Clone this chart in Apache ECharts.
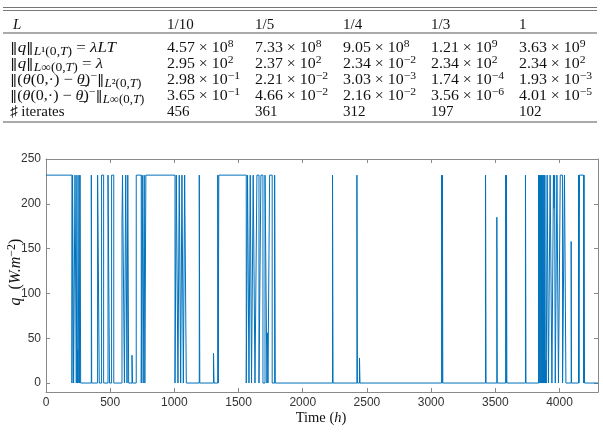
<!DOCTYPE html>
<html><head><meta charset="utf-8">
<script src="https://cdn.jsdelivr.net/npm/echarts@6/dist/echarts.min.js"></script>
<style>html,body{margin:0;padding:0;background:#fff}#c{width:603px;height:437px}</style>
</head><body><div id="c"></div>
<script>
// ---- Table data ----
const tableHeader = ["1/10", "1/5", "1/4", "1/3", "1"];
const rowL1 = [["4.57","8"],["7.33","8"],["9.05","8"],["1.21","9"],["3.63","9"]];
const rowLinf = [["2.95","2"],["2.37","2"],["2.34","−2"],["2.34","2"],["2.34","2"]];
const rowTh2 = [["2.98","−1"],["2.21","−2"],["3.03","−3"],["1.74","−4"],["1.93","−3"]];
const rowThInf = [["3.65","−1"],["4.66","−2"],["2.16","−2"],["3.56","−6"],["4.01","−5"]];
const rowIter = ["456", "361", "312", "197", "102"];

// ---- Chart data: switching times (h) and flux level from that time on (W.m^-2) ----
const timeH = [
  0, 202, 207, 215, 226, 236, 241, 245, 248, 251, 257, 262, 265, 270,
  353, 356, 402, 415, 433, 449, 483, 495, 511, 528,
  592, 596, 611, 621, 631, 637, 644, 670, 674,
  703, 742, 750, 757, 765, 770, 778,
  1005, 1015, 1028, 1038, 1049, 1059, 1070, 1080, 1093,
  1194, 1198, 1305, 1309, 1338, 1342, 1346,
  1560, 1570, 1581, 1591, 1601, 1614, 1628, 1643, 1659, 1674, 1690, 1706, 1721, 1726, 1729,
  1742, 1762, 1781, 1786,
  2232, 2236, 2422, 2426, 2442, 2446, 3082, 3086, 3088, 3091, 3424, 3428, 3512, 3515,
  3581, 3585, 3587, 3590, 3735, 3739,
  3837, 3841, 3844, 3848, 3851, 3855, 3858, 3862, 3865, 3869, 3872, 3876, 3879, 3883, 3886, 3890,
  3894, 3897, 3904, 3914, 3927, 3941, 3953, 3958, 3962, 3967, 3980, 3992, 4006, 4024, 4039, 4050,
  4091, 4094, 4148, 4152, 4156, 4188, 4191, 4195, 4300
];
const fluxQ = [
  232, 0, 232, 0, 232, 0, 232, 0, 37, 0, 232, 0, 232, 0,
  232, 0, 232, 0, 232, 0, 232, 0, 232, 0,
  180, 232, 0, 232, 0, 232, 0, 31, 0,
  232, 0, 232, 0, 232, 0, 232,
  0, 232, 0, 232, 0, 232, 0, 232, 0,
  232, 0, 33, 0, 232, 0, 232,
  0, 232, 0, 232, 0, 232, 0, 232, 0, 232, 0, 232, 0, 56, 0,
  232, 0, 232, 0,
  232, 0, 232, 0, 28, 0, 232, 0, 232, 0, 232, 0, 185, 0,
  232, 0, 232, 0, 232, 0,
  232, 0, 232, 0, 232, 0, 232, 0, 232, 0, 232, 0, 232, 0, 232, 0,
  26, 0, 232, 0, 232, 0, 232, 195, 232, 0, 232, 0, 232, 0, 232, 0,
  158, 0, 232, 0, 232, 0, 232, 0, 0
];
const xTicks = [0, 500, 1000, 1500, 2000, 2500, 3000, 3500, 4000];
const yTicks = [0, 50, 100, 150, 200, 250];

const SERIF = '"Liberation Serif", "DejaVu Serif", serif';
const SANS = '"Liberation Sans", Arial, sans-serif';
const FS = 15;
const SS = 11;
const LS = 12;
const rich = {
  n: {fontFamily: SERIF, fontSize: FS, lineHeight: 19, verticalAlign: 'middle', fill: '#111'},
  nb: {fontFamily: '"DejaVu Serif", serif', fontSize: FS - 1.5, lineHeight: 19, verticalAlign: 'middle', fill: '#111'},
  i: {fontFamily: SERIF, fontSize: FS, fontStyle: 'italic', lineHeight: 19, verticalAlign: 'middle', fill: '#111'},
  sub: {fontFamily: SERIF, fontSize: LS, lineHeight: 13, verticalAlign: 'bottom', fill: '#111'},
  subi: {fontFamily: SERIF, fontSize: LS, fontStyle: 'italic', lineHeight: 13, verticalAlign: 'bottom', fill: '#111'},
  sup: {fontFamily: SERIF, fontSize: SS, lineHeight: 11, verticalAlign: 'top', fill: '#111'},
  tn: {fontFamily: SERIF, fontSize: 14.5, lineHeight: 18, verticalAlign: 'middle', fill: '#111'},
  ti: {fontFamily: SERIF, fontSize: 14.5, fontStyle: 'italic', lineHeight: 18, verticalAlign: 'middle', fill: '#111'},
  yn: {fontFamily: SERIF, fontSize: 16, lineHeight: 20, verticalAlign: 'middle', fill: '#111'},
  yi: {fontFamily: SERIF, fontSize: 16, fontStyle: 'italic', lineHeight: 20, verticalAlign: 'middle', fill: '#111'},
  ysup: {fontFamily: SERIF, fontSize: 12, lineHeight: 12, verticalAlign: 'top', fill: '#111'}
};

const colX = [167, 255, 343, 431, 519];
const rowY = [48, 64, 80, 96, 112.5];
const headerY = 25.5;
const labelX = 10;
const labelScale = [1.13, 1.13, 1.09, 1.07, 1.0];

function txt(x, y, text, sx) {
  return {type: 'text', x: x, y: y, scaleX: sx || 1, silent: true,
    style: {text: text, rich: rich, align: 'left', verticalAlign: 'middle'}};
}
function hline(y, x1, x2, w, c) {
  return {type: 'line', silent: true, shape: {x1: x1, y1: y, x2: x2, y2: y}, style: {stroke: c || '#555', lineWidth: w || 1}};
}

const graphics = [];
graphics.push(hline(7.5, 3, 597, 1, '#777'));
graphics.push(hline(10.5, 3, 597, 1, '#777'));
graphics.push(hline(33, 3, 597, 1, '#555'));
graphics.push(hline(122, 3, 597, 1, '#555'));
graphics.push(txt(labelX + 3, headerY, '{i|L}'));
tableHeader.forEach((h, k) => graphics.push(txt(colX[k], headerY, '{n|' + h + '}')));

const rowLabels = [
  '{nb|‖}{i|q}{nb|‖}{subi|L}{sub|¹(0,}{subi|T}{sub|)}{n| = }{i|λLT}',
  '{nb|‖}{i|q}{nb|‖}{subi|L}{sub|∞(0,}{subi|T}{sub|)}{n| = }{i|λ}',
  '{nb|‖}{n|(}{i|θ}{n|(0,·) − }{i|θ̲}{n|)}{sup|−}{nb|‖}{subi|L}{sub|²(0,}{subi|T}{sub|)}',
  '{nb|‖}{n|(}{i|θ}{n|(0,·) − }{i|θ̲}{n|)}{sup|−}{nb|‖}{subi|L}{sub|∞(0,}{subi|T}{sub|)}',
  '{n|♯ iterates}'
];
rowLabels.forEach((s, r) => graphics.push(txt(labelX, rowY[r], s, labelScale[r])));
[rowL1, rowLinf, rowTh2, rowThInf].forEach((row, r) => {
  row.forEach((v, k) => graphics.push(txt(colX[k], rowY[r], '{n|' + v[0] + ' × 10}{sup|' + v[1] + '}', 1.06)));
});
rowIter.forEach((v, k) => graphics.push(txt(colX[k], rowY[4], '{n|' + v + '}')));

// axis titles
graphics.push({type: 'text', x: 321, y: 418, silent: true,
  style: {text: '{tn|Time (}{ti|h}{tn|)}', rich: rich, align: 'center', verticalAlign: 'middle'}});
graphics.push({type: 'text', x: 16, y: 272, rotation: Math.PI / 2, silent: true,
  style: {text: '{yi|q}{yn|  (}{yi|W.m}{ysup|−2}{yn|)}', rich: rich, align: 'center', verticalAlign: 'middle'}});

const data = timeH.map((t, k) => [t, fluxQ[k]]);
const axisLineColor = '#8a8a8a';
const labelStyle = {fontFamily: SANS, fontSize: 12, color: '#333', formatter: v => String(v)};

const chart = echarts.init(document.getElementById('c'), null, {renderer: 'canvas'});
chart.setOption({
  animation: false,
  backgroundColor: '#fff',
  grid: {left: 46, right: 5, top: 159, bottom: 45, containLabel: false, outerBoundsMode: 'none'},
  xAxis: [
    {type: 'value', min: 0, max: 4300, position: 'bottom',
     axisLine: {show: true, onZero: false, lineStyle: {color: axisLineColor, width: 1}},
     axisTick: {show: true, inside: true, length: 4, customValues: xTicks, lineStyle: {color: axisLineColor}},
     axisLabel: Object.assign({show: true, margin: 5, customValues: xTicks}, labelStyle),
     splitLine: {show: false}},
    {type: 'value', min: 0, max: 4300, position: 'top',
     axisLine: {show: true, onZero: false, lineStyle: {color: axisLineColor, width: 1}},
     axisTick: {show: true, inside: true, length: 4, customValues: xTicks, lineStyle: {color: axisLineColor}},
     axisLabel: {show: false}, splitLine: {show: false}}
  ],
  yAxis: [
    {type: 'value', min: -10, max: 250, position: 'left',
     axisLine: {show: true, onZero: false, lineStyle: {color: axisLineColor, width: 1}},
     axisTick: {show: true, inside: true, length: 4, customValues: yTicks, lineStyle: {color: axisLineColor}},
     axisLabel: Object.assign({show: true, margin: 5, customValues: yTicks}, labelStyle),
     splitLine: {show: false}},
    {type: 'value', min: -10, max: 250, position: 'right',
     axisLine: {show: true, onZero: false, lineStyle: {color: axisLineColor, width: 1}},
     axisTick: {show: true, inside: true, length: 4, customValues: yTicks, lineStyle: {color: axisLineColor}},
     axisLabel: {show: false}, splitLine: {show: false}}
  ],
  series: [{
    type: 'line', step: 'end', xAxisIndex: 0, yAxisIndex: 0,
    data: data, showSymbol: false, symbol: 'none',
    lineStyle: {color: '#0072BD', width: 1}, itemStyle: {color: '#0072BD'}
  }],
  graphic: graphics
});
</script>
</body></html>
